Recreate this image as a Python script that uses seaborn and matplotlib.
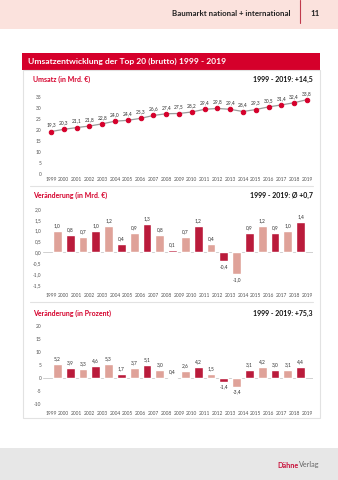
import matplotlib
matplotlib.use("Agg")
import matplotlib.pyplot as plt
import seaborn as sns
import pandas as pd
import numpy as np
from matplotlib.patches import Rectangle
from matplotlib.lines import Line2D

sns.set_theme(style="white")
plt.rcParams['font.family'] = ['Lato', 'DejaVu Sans']

# ---------------- data ----------------
years = list(range(1999, 2020))
umsatz = [19.3, 20.3, 21.1, 21.8, 22.8, 24.0, 24.4, 25.3, 26.6, 27.4, 27.5,
          28.2, 29.4, 29.8, 29.4, 28.4, 29.3, 30.5, 31.4, 32.4, 33.8]
change_mrd = [1.0, 0.8, 0.7, 1.0, 1.2, 0.4, 0.9, 1.3, 0.8, 0.1, 0.7,
              1.2, 0.4, -0.4, -1.0, 0.9, 1.2, 0.9, 1.0, 1.4]
change_pct = [5.2, 3.9, 3.3, 4.6, 5.3, 1.7, 3.7, 5.1, 3.0, 0.4, 2.6,
              4.2, 1.5, -1.4, -3.4, 3.1, 4.2, 3.0, 3.1, 4.4]
header_text = "Baumarkt national + international"
page_no = "11"
title = "Umsatzentwicklung der Top 20 (brutto) 1999 - 2019"
sub1, sub1_r = "Umsatz (in Mrd. €)", "1999 - 2019: +14,5"
sub2, sub2_r = "Veränderung (in Mrd. €)", "1999 - 2019: Ø +0,7"
sub3, sub3_r = "Veränderung (in Prozent)", "1999 - 2019: +75,3"
y1_ticks = [0, 5, 10, 15, 20, 25, 30, 35]
y2_ticks = [-1.5, -1.0, -0.5, 0.0, 0.5, 1.0, 1.5, 2.0]
y3_ticks = [-10, -5, 0, 5, 10, 15, 20]

RED = "#d5002b"
PINK = "#eb998d"
GRAY_LINE = "#9a9a9a"
TICK_C = "#555555"

W, H = 338, 480
fig = plt.figure(figsize=(W / 100, H / 100), dpi=100)

def fx(x): return x / W
def fy(y): return 1 - y / H

def rect(x0, y0, x1, y1, **kw):
    fig.patches.append(Rectangle((fx(x0), fy(y1)), fx(x1) - fx(x0), fy(y0) - fy(y1),
                                 transform=fig.transFigure, **kw))

def hline(x0, x1, y, color, lw=0.6):
    fig.lines.append(Line2D([fx(x0), fx(x1)], [fy(y), fy(y)], transform=fig.transFigure, color=color, lw=lw))

def vline(x, y0, y1, color, lw=0.6):
    fig.lines.append(Line2D([fx(x), fx(x)], [fy(y0), fy(y1)], transform=fig.transFigure, color=color, lw=lw))

def comma(v, nd=1):
    return f"{v:.{nd}f}".replace('.', ',')

# ---------- page decoration ----------
rect(0, 0, W, 29, facecolor="#fbe2dd", edgecolor="none")
vline(300, 0, 23, "#c03a4c", lw=0.8)
fig.text(fx(290), fy(14), header_text, ha="right", va="center", fontsize=5.7, fontweight="bold", color="#222222")
fig.text(fx(315), fy(14), page_no, ha="center", va="center", fontsize=5.7, fontweight="bold", color="#222222")

rect(22, 53, 320, 70, facecolor=RED, edgecolor="none")
fig.text(fx(28), fy(61.5), title, ha="left", va="center", fontsize=6.1, fontweight="bold", color="white")

rect(22.5, 70, 319.5, 418, facecolor="none", edgecolor="#e2e2e2", lw=0.8)
hline(30, 313, 186, "#e2e2e2", lw=0.8)
hline(30, 313, 302, "#e2e2e2", lw=0.8)

for y, l, r in [(79, sub1, sub1_r), (195, sub2, sub2_r), (313, sub3, sub3_r)]:
    fig.text(fx(33), fy(y), l, ha="left", va="center", fontsize=5.0, fontweight="bold", color=RED)
    fig.text(fx(313), fy(y), r, ha="right", va="center", fontsize=5.0, fontweight="bold", color="#111111")

rect(0, 448, W, H, facecolor="#e7e7e7", edgecolor="none")
t1 = fig.text(fx(277), fy(465), "Dähne", ha="left", va="center", fontsize=5.2, fontweight="bold", color="#c8103a")
fig.canvas.draw()
bb = t1.get_window_extent()
fig.text(bb.x1 / fig.dpi / fig.get_figwidth() + 0.002, fy(465), "Verlag", ha="left", va="center",
         fontsize=5.2, color="#666666")

# ---------- axes helpers ----------
X0, X1 = 43.3, 313
px_per_year = 12.8
xmin = -(51 - X0) / px_per_year
xmax = (X1 - 51) / px_per_year

def make_ax(ytop, ybot):
    ax = fig.add_axes([fx(X0), fy(ybot), fx(X1) - fx(X0), fy(ytop) - fy(ybot)])
    ax.set_facecolor("none")
    for s in ax.spines.values():
        s.set_visible(False)
    ax.tick_params(axis="both", length=0, labelsize=3.5, labelcolor=TICK_C, pad=1.5)
    ax.set_xlim(xmin, xmax)
    ax.set_xticks(range(len(years)))
    ax.set_xticklabels([str(y) for y in years])
    ax.set_xlabel("")
    ax.set_ylabel("")
    return ax

# ---------- line chart ----------
ax1 = make_ax(174 - 36.5 * 2.2, 174)
df1 = pd.DataFrame({"i": range(len(years)), "v": umsatz})
sns.lineplot(data=df1, x="i", y="v", ax=ax1, color=GRAY_LINE, lw=0.9,
             marker="o", markersize=3.2, markerfacecolor=RED, markeredgecolor=RED, zorder=3)
ax1.set_ylim(0, 36.5)
ax1.set_xlim(xmin, xmax)
ax1.set_yticks(y1_ticks)
ax1.set_yticklabels([str(t) for t in y1_ticks])
ax1.set_xticks(range(len(years)))
ax1.set_xticklabels([str(y) for y in years])
ax1.set_xlabel(""); ax1.set_ylabel("")
ax1.axhline(0, color="#cccccc", lw=0.6)
ax1.tick_params(axis="x", pad=2.5)
for i, v in enumerate(umsatz):
    ax1.annotate(comma(v), (i, v), xytext=(0, 2.8), textcoords="offset points",
                 ha="center", va="bottom", fontsize=3.5, color="#333333")

# ---------- bar charts ----------
def bar_chart(ytop_px, ybot_px, lo, hi, vals, ticks, tick_fmt):
    ax = make_ax(ytop_px, ybot_px)
    df = pd.DataFrame({"x": np.arange(len(vals)) + 0.5, "v": vals,
                       "g": ["a" if k % 2 == 0 else "b" for k in range(len(vals))]})
    sns.barplot(data=df, x="x", y="v", hue="g", palette={"a": PINK, "b": RED},
                native_scale=True, dodge=False, width=0.68, legend=False, ax=ax, zorder=2)
    ax.set_ylim(lo, hi)
    ax.set_xlim(xmin, xmax)
    ax.set_xticks(range(len(years)))
    ax.set_xticklabels([str(y) for y in years])
    ax.set_yticks(ticks)
    ax.set_yticklabels([tick_fmt(t) for t in ticks])
    ax.set_xlabel(""); ax.set_ylabel("")
    ax.axhline(0, color="#d0d0d0", lw=0.7, zorder=1)
    for k, v in enumerate(vals):
        off = 2.0 if v >= 0 else -2.0
        ax.annotate(comma(v), (k + 0.5, v), xytext=(0, off), textcoords="offset points",
                    ha="center", va="bottom" if v >= 0 else "top", fontsize=3.5, color="#333333")
    ax.tick_params(axis="x", pad=4)
    return ax

ax2 = bar_chart(209 - 0.1 * 21.7, 285 + 0.1 * 21.7, -1.6, 2.1, change_mrd, y2_ticks, lambda t: comma(t))
ax3 = bar_chart(326 - 0.5 * 2.6, 404 + 0.5 * 2.6, -10.5, 20.5, change_pct, y3_ticks, lambda t: str(int(t)))

fig.savefig("out.png", dpi=100)
